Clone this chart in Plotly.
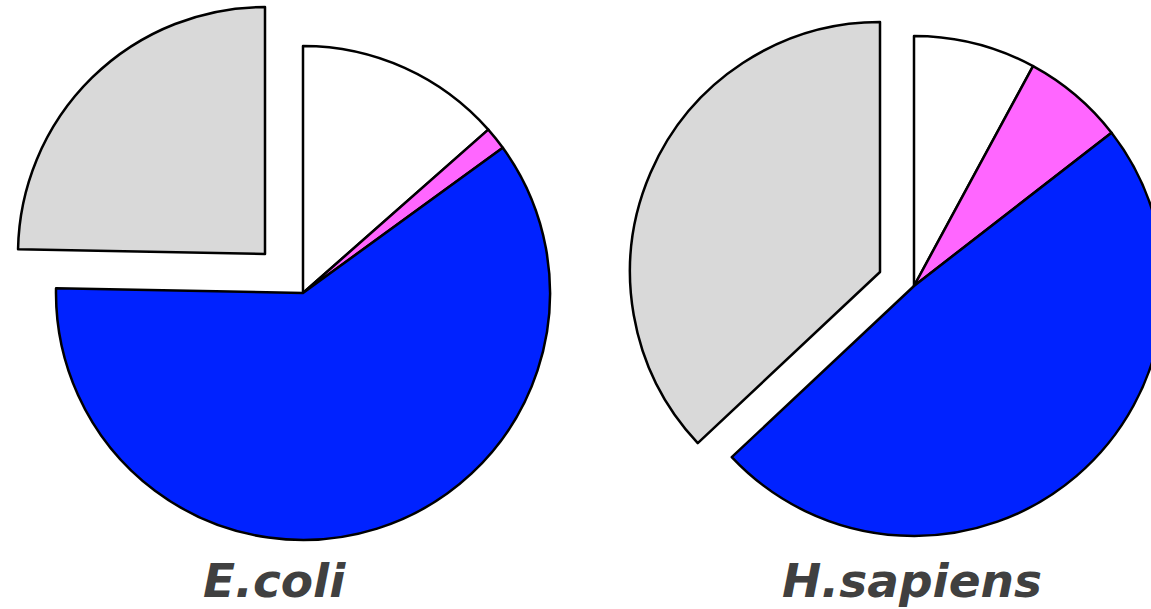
import plotly.graph_objects as go

# ---- data (percent of each pie, clockwise from 12 o'clock) ----
categories = ["Segment A", "Segment B", "Segment C", "Segment D"]
ecoli_values = [13.5, 1.5, 60.3, 24.7]
hsapiens_values = [7.9, 6.6, 48.5, 37.0]
pie_titles = ["E.coli", "H.sapiens"]
slice_colors = ["#FFFFFF", "#FF66FF", "#0022FF", "#D9D9D9"]

W, H = 1165, 609
LINE = 2.5
CLEAR = "rgba(0,0,0,0)"


def dom(cx, cy, r):
    return dict(x=[(cx - r) / W, (cx + r) / W],
                y=[(H - (cy + r)) / H, (H - (cy - r)) / H])


def pie_pair(values, cx, cy, r, dx, dy):
    # main pie without the exploded last slice
    main_colors = slice_colors[:3] + [CLEAR]
    main_widths = [LINE, LINE, LINE, 0]
    # exploded last slice drawn as a separate, offset pie
    exp_colors = [CLEAR, CLEAR, CLEAR, slice_colors[3]]
    exp_widths = [0, 0, 0, LINE]
    t1 = go.Pie(labels=categories, values=values, sort=False,
                direction="clockwise", rotation=0, textinfo="none",
                hoverinfo="label+percent", showlegend=False,
                marker=dict(colors=main_colors,
                            line=dict(color="black", width=main_widths)),
                domain=dom(cx, cy, r))
    t2 = go.Pie(labels=categories, values=values, sort=False,
                direction="clockwise", rotation=0, textinfo="none",
                hoverinfo="skip", showlegend=False,
                marker=dict(colors=exp_colors,
                            line=dict(color="black", width=exp_widths)),
                domain=dom(cx + dx, cy + dy, r))
    return [t2, t1]


fig = go.Figure()
for t in pie_pair(ecoli_values, 303, 293, 247, -38, -39):
    fig.add_trace(t)
for t in pie_pair(hsapiens_values, 914, 286, 250, -34, -14):
    fig.add_trace(t)

title_x = [274, 912]
for name, x in zip(pie_titles, title_x):
    fig.add_annotation(text=f"<b><i>{name}</i></b>", x=x / W, y=(H - 580) / H,
                       xref="paper", yref="paper", xanchor="center", yanchor="middle",
                       showarrow=False, borderpad=0,
                       font=dict(family="DejaVu Sans", size=47, color="#404040"))

fig.update_layout(width=W, height=H, margin=dict(l=0, r=0, t=0, b=0),
                  paper_bgcolor="white", plot_bgcolor="white")

fig.write_html("out.html",
               post_script="document.documentElement.style.overflow='hidden';"
                           "document.body.style.overflow='hidden';")
